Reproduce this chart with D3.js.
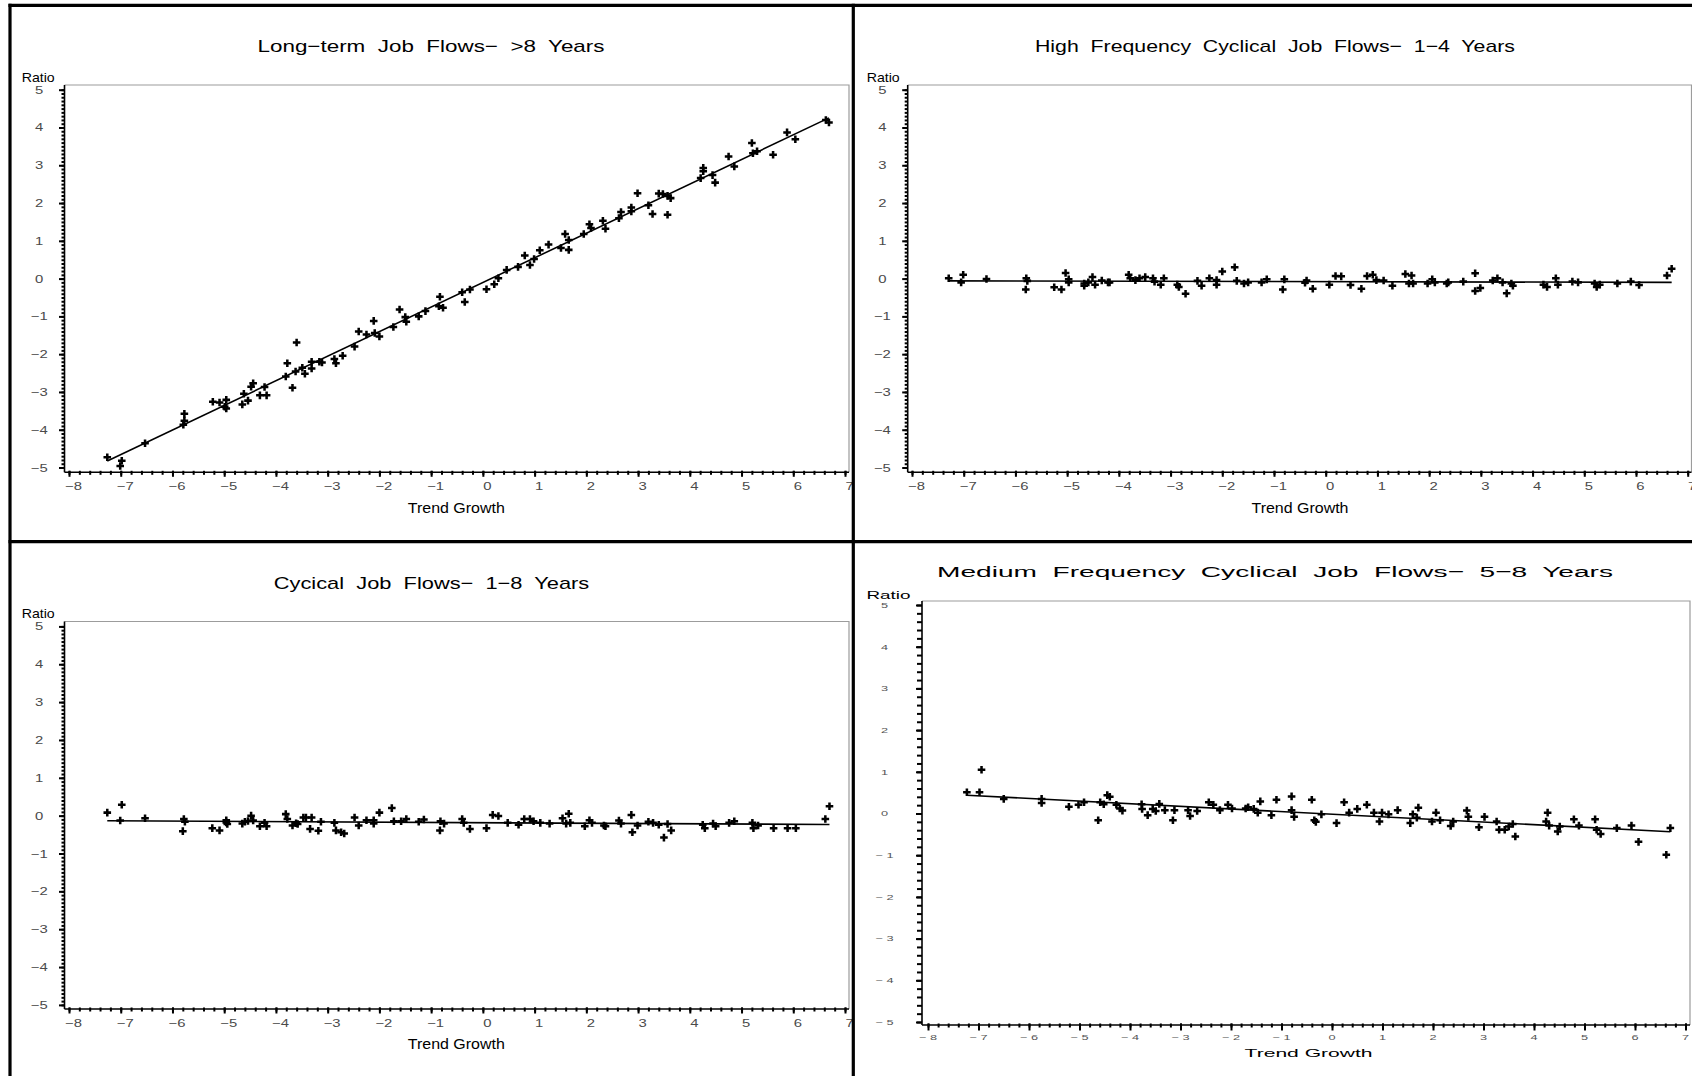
<!DOCTYPE html>
<html><head><meta charset="utf-8">
<script src="https://cdn.jsdelivr.net/npm/d3@7"></script>
<style>
html,body{margin:0;padding:0;background:#fff;}
svg{display:block;}
text{white-space:pre;font-family:"Liberation Sans",Arial,sans-serif;}
</style></head><body>
<svg id="c" width="1692" height="1076"></svg>
<script>
// ---------------- data ----------------
const titles = [
  "Long\u2212term  Job  Flows\u2212  >8  Years",
  "High  Frequency  Cyclical  Job  Flows\u2212  1\u22124  Years",
  "Cycical  Job  Flows\u2212  1\u22128  Years",
  "Medium  Frequency  Cyclical  Job  Flows\u2212  5\u22128  Years"
];
const yAxisLabel = "Ratio";
const xAxisLabel = "Trend Growth";
const xTickLabels = [-8,-7,-6,-5,-4,-3,-2,-1,0,1,2,3,4,5,6,7];
const yTickLabels = [-5,-4,-3,-2,-1,0,1,2,3,4,5];

// Long-term (>8 years)
const longX = [
-7.26,-6.98,-7.01,-6.53,-5.77,-5.77,-5.79,-5.22,-5.09,-4.96,
-4.99,-4.96,-4.62,-4.65,-4.54,-4.44,-4.48,-4.31,-4.18,-4.22,
-3.78,-3.81,-3.68,-3.60,-3.62,-3.49,-3.44,-3.31,-3.31,-3.16,
-3.11,-2.87,-2.84,-2.71,-2.48,-2.40,-2.25,-2.11,-2.09,-2.00,
-1.73,-1.61,-1.50,-1.48,-1.24,-1.11,-0.83,-0.85,-0.77,-0.40,
-0.35,-0.25,0.07,0.22,0.30,0.46,0.68,0.81,0.91,0.99,
1.10,1.27,1.51,1.59,1.66,1.66,1.95,2.06,2.09,2.32,
2.37,2.63,2.67,2.87,2.87,2.99,3.20,3.28,3.40,3.48,
3.57,3.57,3.63,4.21,4.26,4.26,4.44,4.49,4.75,4.86,
5.20,5.22,5.30,5.61,5.88,6.04,6.63,6.69];
const longY = [
-4.73,-4.82,-4.96,-4.36,-3.58,-3.76,-3.87,-3.26,-3.28,-3.21,
-3.39,-3.44,-3.05,-3.33,-3.23,-2.77,-2.86,-3.09,-3.09,-2.87,
-2.24,-2.59,-2.89,-1.69,-2.46,-2.36,-2.52,-2.20,-2.38,-2.20,
-2.22,-2.13,-2.24,-2.04,-1.80,-1.40,-1.48,-1.12,-1.44,-1.53,
-1.28,-0.82,-1.02,-1.14,-1.00,-0.86,-0.48,-0.73,-0.77,-0.36,
-0.62,-0.29,-0.28,-0.15,0.01,0.23,0.31,0.61,0.36,0.52,
0.75,0.90,0.81,1.18,1.02,0.76,1.18,1.44,1.34,1.53,
1.32,1.60,1.76,1.88,1.78,2.26,1.94,1.71,2.25,2.24,
1.69,2.19,2.13,2.66,2.93,2.84,2.74,2.54,3.23,2.97,
3.59,3.32,3.37,3.28,3.87,3.69,4.20,4.13];

// High frequency cyclical (1-4 years)
const highX = [
-7.29,-7.05,-7.01,-6.56,-5.79,-5.77,-5.80,-5.25,-5.11,-5.03,
-4.97,-4.97,-4.67,-4.67,-4.59,-4.51,-4.46,-4.33,-4.21,-4.18,
-3.81,-3.78,-3.68,-3.60,-3.49,-3.34,-3.31,-3.19,-3.13,-2.87,
-2.84,-2.71,-2.48,-2.40,-2.25,-2.11,-2.11,-2.00,-1.76,-1.72,
-1.58,-1.50,-1.24,-1.14,-0.83,-0.80,-0.40,-0.37,-0.25,0.07,
0.19,0.30,0.48,0.69,0.80,0.91,0.98,1.12,1.29,1.54,
1.61,1.66,1.69,1.97,2.06,2.11,2.34,2.37,2.66,2.89,
2.89,2.99,3.23,3.32,3.42,3.50,3.59,3.62,4.21,4.28,
4.45,4.49,4.77,4.88,5.20,5.24,5.30,5.64,5.90,6.06,
6.60,6.69];
const highY = [
0.01,-0.10,0.10,-0.01,0.01,-0.06,-0.29,-0.23,-0.29,0.15,
-0.02,-0.10,-0.13,-0.19,-0.10,0.04,-0.16,-0.05,-0.10,-0.10,
0.10,0.01,-0.04,0.01,0.04,0.01,-0.08,-0.16,0.01,-0.16,
-0.22,-0.40,-0.06,-0.19,0.01,-0.04,-0.16,0.19,0.30,-0.06,
-0.13,-0.10,-0.10,-0.02,-0.29,-0.02,-0.11,-0.05,-0.27,-0.16,
0.07,0.06,-0.17,-0.27,0.07,0.10,-0.04,-0.05,-0.19,0.12,
-0.13,0.08,-0.13,-0.13,-0.02,-0.10,-0.13,-0.10,-0.08,0.14,
-0.33,-0.25,-0.05,0.01,-0.10,-0.39,-0.13,-0.19,-0.16,-0.22,
0.01,-0.16,-0.08,-0.10,-0.13,-0.22,-0.16,-0.13,-0.08,-0.17,
0.08,0.26];

// Cyclical (1-8 years)
const cycX = [
-7.26,-6.98,-7.01,-6.53,-5.78,-5.76,-5.80,-5.23,-5.09,-4.96,
-4.96,-4.94,-4.65,-4.60,-4.54,-4.48,-4.44,-4.31,-4.22,-4.18,
-3.81,-3.78,-3.68,-3.61,-3.58,-3.47,-3.42,-3.34,-3.31,-3.18,
-3.13,-2.87,-2.84,-2.74,-2.68,-2.48,-2.40,-2.25,-2.11,-2.11,
-2.00,-1.76,-1.72,-1.58,-1.48,-1.24,-1.14,-0.83,-0.82,-0.75,
-0.40,-0.37,-0.25,0.07,0.19,0.30,0.48,0.69,0.80,0.91,
0.98,1.11,1.29,1.54,1.61,1.66,1.69,1.97,2.06,2.11,
2.34,2.37,2.63,2.67,2.87,2.89,2.99,3.20,3.29,3.40,
3.50,3.57,3.64,4.25,4.29,4.45,4.50,4.76,4.86,5.21,
5.23,5.32,5.62,5.89,6.05,6.62,6.70];
const cycY = [
0.08,0.29,-0.13,-0.07,-0.09,-0.16,-0.41,-0.33,-0.39,-0.12,
-0.18,-0.22,-0.21,-0.16,-0.14,0.00,-0.13,-0.28,-0.19,-0.28,
0.04,-0.09,-0.26,-0.20,-0.22,-0.05,-0.05,-0.35,-0.05,-0.40,
-0.16,-0.19,-0.39,-0.44,-0.47,-0.05,-0.26,-0.12,-0.12,-0.21,
0.08,0.20,-0.15,-0.15,-0.09,-0.16,-0.10,-0.39,-0.15,-0.21,
-0.09,-0.19,-0.35,-0.33,0.02,-0.01,-0.19,-0.24,-0.09,-0.09,
-0.15,-0.19,-0.21,-0.07,-0.21,0.05,-0.19,-0.28,-0.12,-0.19,
-0.26,-0.28,-0.13,-0.21,0.02,-0.44,-0.26,-0.16,-0.19,-0.24,
-0.58,-0.22,-0.39,-0.24,-0.33,-0.21,-0.28,-0.19,-0.15,-0.19,
-0.33,-0.26,-0.33,-0.33,-0.33,-0.09,0.25];

// Medium frequency cyclical (5-8 years)
const medX = [
-7.23,-6.98,-6.94,-6.50,-5.75,-5.75,-5.21,-5.02,-4.91,-4.63,
-4.59,-4.52,-4.45,-4.40,-4.27,-4.20,-4.15,-3.77,-3.76,-3.65,
-3.55,-3.49,-3.42,-3.31,-3.15,-3.12,-2.85,-2.81,-2.67,-2.44,
-2.35,-2.22,-2.06,-1.98,-1.71,-1.66,-1.55,-1.47,-1.42,-1.20,
-1.10,-0.80,-0.80,-0.75,-0.40,-0.35,-0.32,-0.21,0.09,0.24,
0.34,0.50,0.69,0.83,0.94,0.99,1.12,1.30,1.55,1.60,
1.68,1.71,1.98,2.06,2.14,2.35,2.40,2.67,2.70,2.91,
3.02,3.26,3.31,3.42,3.50,3.58,3.63,4.24,4.27,4.30,
4.47,4.51,4.79,4.89,5.21,5.24,5.32,5.64,5.93,6.07,
6.62,6.70];
const medY = [
0.51,0.51,1.05,0.35,0.35,0.25,0.16,0.21,0.27,-0.16,
0.27,0.22,0.44,0.40,0.21,0.12,0.07,0.22,0.11,-0.04,
0.11,0.06,0.23,0.08,-0.16,0.08,0.08,-0.06,0.06,0.27,
0.21,0.08,0.21,0.12,0.12,0.15,0.11,0.02,0.29,-0.04,
0.33,0.41,0.08,-0.08,0.33,-0.16,-0.20,-0.02,-0.23,0.27,
0.02,0.11,0.21,0.02,-0.19,0.02,-0.02,0.08,-0.23,-0.02,
-0.10,0.14,-0.19,0.02,-0.16,-0.30,-0.19,0.07,-0.08,-0.33,
-0.08,-0.19,-0.39,-0.39,-0.31,-0.25,-0.55,-0.19,0.02,-0.29,
-0.43,-0.31,-0.14,-0.29,-0.14,-0.39,-0.49,-0.35,-0.29,-0.68,
-0.99,-0.35];

// ---------------- layout ----------------
const svg = d3.select('#c');

const panels = [
  {title:titles[0], xs:longX, ys:longY, kind:'a',
   x0:69, x1:845, yTop:89.7, yBot:467.5, axisX:64.5, axisY:472.3, frameTop:85, frameRight:849,
   titleX:431, titleY:51.5, titleW:347, titleSize:17,
   ratioX:21.7, ratioY:81.7, ratioW:33, ratioSize:13,
   tgX:456.3, tgY:513.4, tgW:97, tgSize:15},
  {title:titles[1], xs:highX, ys:highY, kind:'a',
   x0:912, x1:1687.7, yTop:89.7, yBot:467.5, axisX:907.7, axisY:472.3, frameTop:85, frameRight:1691.5,
   titleX:1275, titleY:51.5, titleW:480, titleSize:17,
   ratioX:866.7, ratioY:81.7, ratioW:33, ratioSize:13,
   tgX:1300, tgY:513.4, tgW:97, tgSize:15},
  {title:titles[2], xs:cycX, ys:cycY, kind:'a',
   x0:69, x1:845, yTop:626.4, yBot:1004.9, axisX:64.5, axisY:1009, frameTop:621.5, frameRight:849,
   titleX:431.5, titleY:589, titleW:315.5, titleSize:17,
   ratioX:21.7, ratioY:618, ratioW:33, ratioSize:13,
   tgX:456.3, tgY:1048.5, tgW:97, tgSize:15},
  {title:titles[3], xs:medX, ys:medY, kind:'b',
   x0:928, x1:1685.5, yTop:605, yBot:1022, axisX:922, axisY:1025, frameTop:601, frameRight:1690,
   titleX:1275, titleY:577, titleW:676, titleSize:15.5,
   ratioX:866.5, ratioY:599, ratioW:44, ratioSize:10.5,
   tgX:1308.6, tgY:1057, tgW:128, tgSize:11.5}
];

function stretchText(g, x, y, str, size, width, anchor, fill) {
  return g.append('text')
    .attr('x', x).attr('y', y)
    .attr('text-anchor', anchor)
    .attr('font-size', size)
    .attr('fill', fill || '#000')
    .attr('textLength', width)
    .attr('lengthAdjust', 'spacingAndGlyphs')
    .text(str);
}

function drawPanel(p) {
  const g = svg.append('g');
  const x = d3.scaleLinear().domain([xTickLabels[0], xTickLabels[xTickLabels.length-1]]).range([p.x0, p.x1]);
  const y = d3.scaleLinear().domain([yTickLabels[0], yTickLabels[yTickLabels.length-1]]).range([p.yBot, p.yTop]);
  const isA = p.kind === 'a';

  // plot frame (gray, top & right)
  g.append('path')
    .attr('d', `M${p.axisX},${p.frameTop}H${p.frameRight}V${p.axisY}`)
    .attr('fill','none').attr('stroke','#9c9c9c').attr('stroke-width',1.2);

  // minor / major ticks via d3 axes
  const xMinor = d3.range(-80, 71, 2).map(v => v/10);
  const yMinor = isA ? d3.range(-50, 51, 1).map(v => v/10) : d3.range(-50, 51, 2).map(v => v/10);

  const styleTicks = sel => {
    sel.select('.domain').remove();
    sel.selectAll('.tick line').attr('stroke','#000').attr('stroke-width',2);
  };
  g.append('g').attr('transform', `translate(0,${p.axisY - 1.5})`)
    .call(d3.axisBottom(x).tickValues(xMinor).tickSize(4).tickFormat(''))
    .call(styleTicks);
  g.append('g').attr('transform', `translate(0,${p.axisY - 1.5})`)
    .call(d3.axisBottom(x).tickValues(xTickLabels).tickSize(isA ? 6 : 7).tickFormat(''))
    .call(styleTicks);
  g.append('g').attr('transform', `translate(${p.axisX},0)`)
    .call(d3.axisLeft(y).tickValues(yMinor).tickSize(isA ? 3 : 5).tickFormat(''))
    .call(styleTicks);
  g.append('g').attr('transform', `translate(${p.axisX},0)`)
    .call(d3.axisLeft(y).tickValues(yTickLabels).tickSize(isA ? 5.5 : 6).tickFormat(''))
    .call(styleTicks);

  // axis lines
  g.append('line').attr('x1',p.axisX).attr('x2',p.axisX).attr('y1',p.frameTop).attr('y2',p.axisY)
    .attr('stroke','#000').attr('stroke-width',1.6);
  g.append('line').attr('x1',p.axisX).attr('x2',p.frameRight).attr('y1',p.axisY).attr('y2',p.axisY)
    .attr('stroke','#000').attr('stroke-width',1.6);

  // tick labels
  const fmt = v => v < 0 ? (isA ? '\u2212' + (-v) : '\u2212 ' + (-v)) : String(v);
  const tSize = isA ? 11 : 7.5;
  const sx = isA ? 1.35 : 1.7;
  const tFill = isA ? '#4a4a4a' : '#555';
  const xdx = isA ? 4.5 : 0;
  const xLabY = p.axisY + (isA ? 17.5 : 15);
  g.append('g').selectAll('text').data(xTickLabels).join('text')
    .attr('transform', v => `translate(${x(v) + xdx},${xLabY}) scale(${sx},1)`)
    .attr('text-anchor','middle').attr('font-size', tSize).attr('fill', tFill)
    .text(fmt);
  const yLabX = p.axisX - (isA ? 25.3 : 37.5);
  g.append('g').selectAll('text').data(yTickLabels).join('text')
    .attr('transform', v => `translate(${yLabX},${y(v) + (isA ? 4 : 2.8)}) scale(${sx},1)`)
    .attr('text-anchor','middle').attr('font-size', tSize).attr('fill', tFill)
    .text(fmt);

  // texts
  stretchText(g, p.titleX, p.titleY, p.title, p.titleSize, p.titleW, 'middle');
  stretchText(g, p.ratioX, p.ratioY, yAxisLabel, p.ratioSize, p.ratioW, 'start');
  stretchText(g, p.tgX, p.tgY, xAxisLabel, p.tgSize, p.tgW, 'middle');

  // regression line (least squares fit of the plotted data)
  const pts = d3.zip(p.xs, p.ys);
  const mx = d3.mean(pts, d => d[0]), my = d3.mean(pts, d => d[1]);
  const b = d3.sum(pts, d => (d[0]-mx)*(d[1]-my)) / d3.sum(pts, d => (d[0]-mx)**2);
  const a = my - b*mx;
  const [xmin, xmax] = d3.extent(pts, d => d[0]);
  g.append('path')
    .attr('d', d3.line().x(d => x(d)).y(d => y(a + b*d))([xmin, xmax]))
    .attr('fill','none').attr('stroke','#000').attr('stroke-width',1.6);

  // points: plus markers
  const sym = d3.symbol(d3.symbolCross, 32)();
  g.append('g').selectAll('path').data(pts).join('path')
    .attr('transform', d => `translate(${x(d[0])},${y(d[1])})`)
    .attr('d', sym).attr('fill','#000');
}

panels.forEach(drawPanel);

// outer frame lines
const frame = svg.append('g').attr('stroke','#000').attr('stroke-width',3.2).attr('fill','none');
frame.append('line').attr('x1',8.5).attr('x2',1692).attr('y1',5.4).attr('y2',5.4);
frame.append('line').attr('x1',10).attr('x2',10).attr('y1',3.8).attr('y2',1076);
frame.append('line').attr('x1',853.3).attr('x2',853.3).attr('y1',3.8).attr('y2',1076);
frame.append('line').attr('x1',8.5).attr('x2',1692).attr('y1',541.6).attr('y2',541.6);
</script>
</body></html>
